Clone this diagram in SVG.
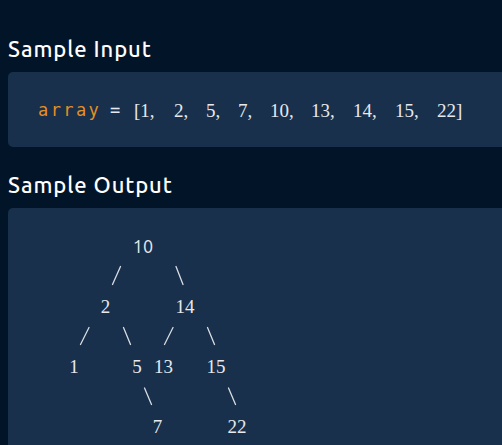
<svg xmlns="http://www.w3.org/2000/svg" width="502" height="445" viewBox="0 0 502 445">
<style>
.h{font-family:"Ubuntu","Open Sans","Noto Sans",sans-serif;font-size:22px;font-weight:500;fill:#ffffff;letter-spacing:0.9px}
.m{font-family:"DejaVu Sans Mono","Liberation Mono",monospace;font-size:17px}
.s{font-family:"Liberation Serif","DejaVu Serif",serif;font-size:19px;fill:#e6e9ee}
.t{font-family:"Liberation Serif","DejaVu Serif",serif;font-size:19px;fill:#e6e9ee;text-anchor:middle}
.r{font-family:"Ubuntu","Open Sans","Noto Sans",sans-serif;font-size:18px;fill:#e6e9ee;text-anchor:middle}
.panel{fill:#18304b}
#connectors line{stroke:#d8dde4;stroke-width:1.3;stroke-linecap:round}
</style>
<rect width="502" height="445" fill="#021528"/>
<g id="input">
<text class="h" x="8" y="57">Sample Input</text>
<rect class="panel" x="8" y="72" width="510" height="75" rx="5"/>
<text class="m" x="38" y="116" fill="#e58e24" letter-spacing="2.4">array</text>
<text class="m" x="110" y="116" fill="#e6e9ee">=</text>
<text class="s" x="134" y="117">[1,</text>
<text class="s" x="174" y="117">2,</text>
<text class="s" x="206" y="117">5,</text>
<text class="s" x="238" y="117">7,</text>
<text class="s" x="270" y="117">10,</text>
<text class="s" x="311" y="117">13,</text>
<text class="s" x="353" y="117">14,</text>
<text class="s" x="395" y="117">15,</text>
<text class="s" x="437" y="117">22]</text>
</g>
<g id="output">
<text class="h" x="8" y="193">Sample Output</text>
<rect class="panel" x="8" y="208" width="510" height="260" rx="5"/>
</g>
<g id="n10"><text class="r" x="143" y="253">10</text></g>
<g id="n2"><text class="t" x="105.5" y="313">2</text></g>
<g id="n14"><text class="t" x="185" y="313">14</text></g>
<g id="n1"><text class="t" x="74" y="373">1</text></g>
<g id="n5"><text class="t" x="137" y="373">5</text></g>
<g id="n13"><text class="t" x="163.5" y="373">13</text></g>
<g id="n15"><text class="t" x="216" y="373">15</text></g>
<g id="n7"><text class="t" x="157.5" y="433">7</text></g>
<g id="n22"><text class="t" x="237" y="433">22</text></g>
<g id="connectors">
<line x1="120.5" y1="266.5" x2="112.5" y2="284.5"/>
<line x1="176" y1="266.5" x2="183" y2="284.5"/>
<line x1="89" y1="327.5" x2="80.5" y2="344.5"/>
<line x1="123.5" y1="327.5" x2="130.5" y2="344.5"/>
<line x1="173" y1="327.5" x2="164.5" y2="344.5"/>
<line x1="207.5" y1="327.5" x2="214.5" y2="344.5"/>
<line x1="144.5" y1="388" x2="151.5" y2="404.5"/>
<line x1="228.5" y1="388" x2="235.5" y2="404.5"/>
</g>
</svg>
